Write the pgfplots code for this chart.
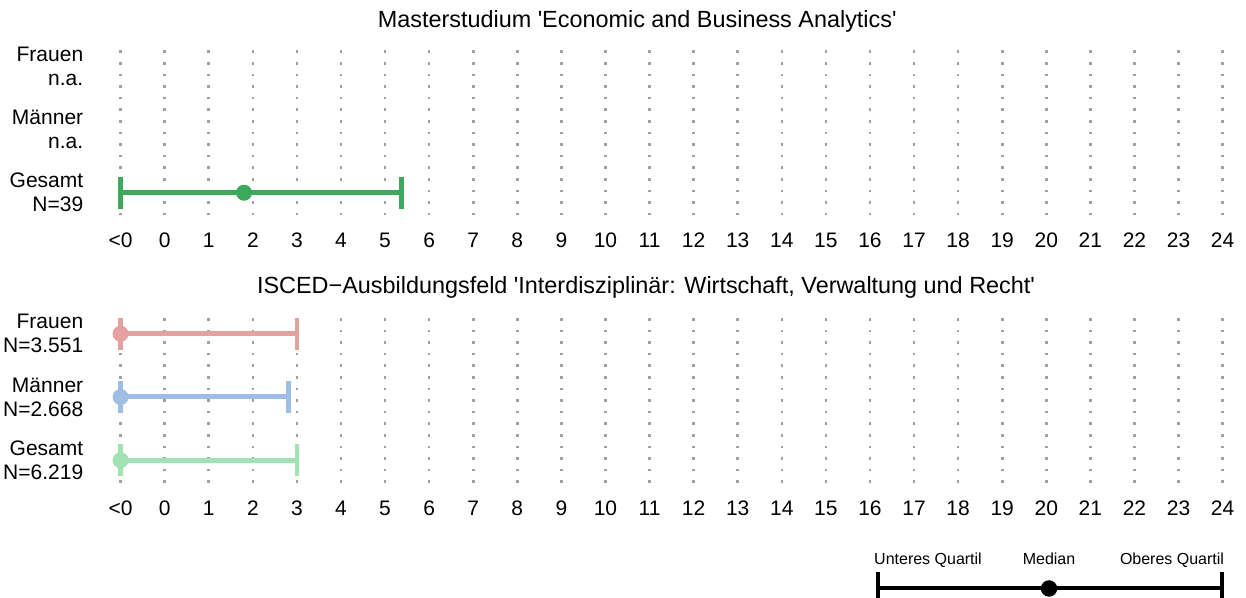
\documentclass[border=0pt]{standalone}
\usepackage{fontspec}
\setmainfont{Liberation Sans}
\usepackage{pgfplots}
\pgfplotsset{compat=1.18}
\definecolor{cgreen}{RGB}{60,170,90}
\definecolor{cpink}{RGB}{230,160,160}
\definecolor{cblue}{RGB}{158,190,230}
\definecolor{clgreen}{RGB}{160,226,178}
\definecolor{cgrid}{RGB}{160,160,160}
\newcommand{\mainfont}{\fontsize{10.5}{12}\selectfont}
\newcommand{\titlefont}{\fontsize{11.7}{13}\selectfont}
\pgfplotsset{
  panel/.style={
    scale only axis, width=551pt, height=86pt,
    xmin=-1, xmax=24, ymin=0.64, ymax=3.36,
    xtick={-1,0,1,2,3,4,5,6,7,8,9,10,11,12,13,14,15,16,17,18,19,20,21,22,23,24},
    xticklabels={<0,0,1,2,3,4,5,6,7,8,9,10,11,12,13,14,15,16,17,18,19,20,21,22,23,24},
    ytick={1,2,3},
    axis line style={draw=none}, major tick length=0pt,
    xmajorgrids, ymajorgrids=false,
    major grid style={cgrid, line width=1.3pt, dash pattern=on 1.3pt off 4.5pt},
    tick label style={font=\mainfont},
    xticklabel style={anchor=base, inner sep=0pt, yshift=-16.2pt},
    yticklabel style={anchor=east, inner sep=0pt, xshift=-18.5pt, align=right},
    clip=false,
  },
  bar/.style={line width=2.5pt, forget plot},
  caps/.style={only marks, mark=|, mark size=7.9pt, mark options={line width=2.4pt}, forget plot},
  med/.style={only marks, mark=*, mark size=3.8pt, forget plot},
}
\begin{document}
\begin{tikzpicture}
% ---------- top panel ----------
\begin{axis}[panel, at={(60.3pt,191.25pt)}, anchor=south west,
  yticklabels={{Gesamt\\N=39},{Männer\\n.a.},{Frauen\\n.a.}}]
  \addplot[bar, cgreen] coordinates {(-1,1) (5.38,1)};
  \addplot[caps, cgreen] coordinates {(-1,1) (5.38,1)};
  \addplot[med, cgreen] coordinates {(1.80,1)};
  \node[anchor=base, yshift=8pt, font=\titlefont] at (axis cs:10.72,3.36)
    {Masterstudium \textquotesingle Economic and Business Analytics\textquotesingle};
\end{axis}
% ---------- bottom panel ----------
\begin{axis}[panel, at={(60.3pt,57.5pt)}, anchor=south west,
  yticklabels={{Gesamt\\N=6.219},{Männer\\N=2.668},{Frauen\\N=3.551}}]
  \addplot[bar, cpink] coordinates {(-1,3) (3.0,3)};
  \addplot[caps, cpink] coordinates {(-1,3) (3.0,3)};
  \addplot[med, cpink] coordinates {(-1,3)};
  \addplot[bar, cblue] coordinates {(-1,2) (2.80,2)};
  \addplot[caps, cblue] coordinates {(-1,2) (2.80,2)};
  \addplot[med, cblue] coordinates {(-1,2)};
  \addplot[bar, clgreen] coordinates {(-1,1) (3.0,1)};
  \addplot[caps, clgreen] coordinates {(-1,1) (3.0,1)};
  \addplot[med, clgreen] coordinates {(-1,1)};
  \node[anchor=base, yshift=8.5pt, font=\titlefont] at (axis cs:10.92,3.36)
    {ISCED−Ausbildungsfeld \textquotesingle Interdisziplinär: Wirtschaft, Verwaltung und Recht\textquotesingle};
\end{axis}
% ---------- legend (pixel coordinates) ----------
\begin{axis}[at={(0pt,0pt)}, anchor=south west, scale only axis,
  width=623pt, height=299pt, xmin=0, xmax=1246, ymin=0, ymax=598,
  hide axis, clip=false]
  \addplot[black, line width=2pt, forget plot] coordinates {(878,9.5) (1222,9.5)};
  \addplot[black, only marks, mark=|, mark size=8pt, mark options={line width=2pt}, forget plot]
    coordinates {(878,9.5) (1222,9.5)};
  \addplot[black, only marks, mark=*, mark size=3.9pt, forget plot] coordinates {(1049,9.5)};
  \node[anchor=base, font=\fontsize{8}{9.6}\selectfont] at (axis cs:928,33) {Unteres Quartil};
  \node[anchor=base, font=\fontsize{8}{9.6}\selectfont] at (axis cs:1049,33) {Median};
  \node[anchor=base, font=\fontsize{8}{9.6}\selectfont] at (axis cs:1172,33) {Oberes Quartil};
\end{axis}
\pgfresetboundingbox
\path[use as bounding box] (0pt,0pt) rectangle (623pt,299pt);
\end{tikzpicture}
\end{document}
